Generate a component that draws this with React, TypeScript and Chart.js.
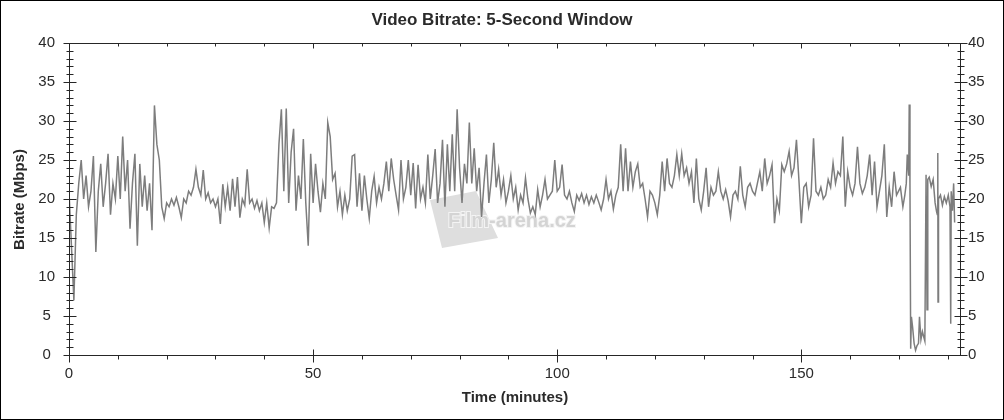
import { useEffect, useRef } from "react";
import { Chart, registerables } from "chart.js";

Chart.register(...registerables);

const TITLE = "Video Bitrate: 5-Second Window";
const X_TITLE = "Time (minutes)";
const Y_TITLE = "Bitrate (Mbps)";
const WATERMARK = "Film-arena.cz";

const X_MAX = 182.5;
const Y_MAX = 40;
const X_LABEL_TICKS = [0, 50, 100, 150];
const X_MINOR_STEP = 10;
const Y_LABEL_TICKS = [0, 5, 10, 15, 20, 25, 30, 35, 40];
const Y_MINOR_STEP = 1;

const SAMPLE_STEP = 0.5; // minutes between samples
const SEGMENT_MINUTES = 10;

// Bitrate (Mbps) sampled every 0.5 min, one array per 10-minute segment
const seg000 = [21, 14, 7, 18, 22, 25, 20, 23, 19, 21, 25.5, 13.2, 21, 24.5, 19, 22, 25.8, 18, 22, 20];
const seg010 = [25.5, 20, 28, 21, 25, 16.2, 22, 25.8, 14, 24.5, 19, 23, 18.5, 22, 16, 32, 27, 25, 19, 17.5];
const seg020 = [19.5, 19, 20, 19.2, 20.2, 19, 17.6, 20, 19.5, 21, 20.5, 21.5, 23.8, 21.5, 20.5, 23.7, 20, 20.8, 19.5, 20];
const seg030 = [19, 20, 16.8, 21.9, 19, 21.5, 18.5, 22.6, 19, 22.8, 17.6, 20, 19.2, 23.8, 19.5, 20, 18.8, 19.8, 18.5, 19.5];
const seg040 = [17, 19.5, 16.3, 19, 18.8, 19.5, 27, 31.5, 21, 31.6, 19.5, 26, 29, 18.5, 23, 20, 27.7, 19.5, 14, 25.8];
const seg050 = [19.5, 24.5, 21, 18.3, 22, 20, 29.8, 28, 22.5, 23.3, 19, 21, 18, 20.5, 18.5, 20, 25.5, 25.7, 19, 23.3];
const seg060 = [18.5, 23, 20, 17.5, 21, 22.9, 19.5, 21.5, 20, 22, 24.8, 21, 25.2, 22.5, 20.5, 18.6, 25, 20, 21.5, 25];
const seg070 = [20.5, 24.6, 18.8, 24.4, 20, 21.5, 19.5, 25.7, 20, 23, 26.4, 19.5, 22, 27.6, 19, 27, 21, 28.3, 21, 31.5];
const seg080 = [24, 19.5, 24.5, 22, 29.8, 22, 26.5, 21, 24, 17.7, 22, 25.7, 19.5, 22.5, 27.2, 21.5, 23.8, 20.5, 22.5, 19.5];
const seg090 = [21, 23, 20, 21.5, 18.6, 20.5, 19.5, 22.7, 20, 18.2, 19, 18, 21.2, 19, 20.5, 22.5, 20, 20.5, 21, 25];
const seg100 = [21, 21.5, 24.4, 20.5, 20, 21, 19.5, 18.4, 20.5, 19.8, 20.7, 19.5, 20.5, 19.3, 20.3, 19.5, 20.5, 19.6, 18.6, 20];
const seg110 = [22.5, 20, 21, 18.7, 20.5, 21.5, 27, 21, 26.5, 21, 24.8, 21.5, 23.5, 24.5, 21.5, 22, 20, 17.7, 21, 20.5];
const seg120 = [19.5, 18, 20.5, 24.8, 21, 25.2, 22, 21.5, 23, 25.7, 23, 25.8, 23, 24, 22, 23.5, 19.5, 25.2, 20, 18.6];
const seg130 = [21, 24, 19, 21.5, 20.5, 21, 23.5, 21, 20, 21.2, 19.8, 17.7, 20.5, 21, 20, 24.2, 20.5, 19, 21.5, 22];
const seg140 = [21, 20.5, 22, 23.5, 21, 25.2, 22, 23, 24.4, 16.9, 20, 18.5, 24.4, 23.5, 24.5, 26.1, 23, 24, 27.6, 22.5];
const seg150 = [16.9, 21.5, 22, 19, 20.5, 27.8, 21, 20.5, 21.5, 20, 20.5, 22.5, 21.5, 24.6, 22, 23.5, 23, 28, 19, 23.5];
const seg160 = [21.5, 20.5, 22, 26.7, 22, 20.7, 21.5, 23, 25.7, 20.5, 24.8, 19, 21, 23, 27, 17.7, 21.5, 19, 23.5, 20.5];

const SEGMENTS = [seg000, seg010, seg020, seg030, seg040, seg050, seg060, seg070, seg080, seg090, seg100, seg110, seg120, seg130, seg140, seg150, seg160];

// Final part (credits / extras) with irregular detail
const TAIL_TIMES = [170.3, 170.8, 171.2, 171.5, 171.7, 172.0, 172.1, 172.25, 172.4, 172.55, 172.8, 173.1, 173.4, 173.7, 174.0, 174.2, 174.5, 174.8, 175.0, 175.3, 175.55, 175.75, 175.9, 176.2, 176.6, 177.0, 177.4, 177.7, 177.85, 177.95, 178.0, 178.1, 178.5, 178.9, 179.3, 179.7, 180.1, 180.45, 180.6, 180.7, 180.95, 181.2, 181.4];
const TAIL_VALUES = [21.5, 19, 20.5, 22, 25.7, 23, 32.1, 22, 0.8, 4.9, 3.5, 1.5, 0.6, 1.2, 1.5, 4.9, 2, 3, 2.5, 1.8, 23.1, 5.8, 22.5, 22.8, 21.6, 22.5, 19.5, 18.4, 18, 25.9, 6.8, 20, 20.5, 19.2, 20.3, 19.5, 20.5, 19, 4, 21, 18.5, 22, 17];

const LINE_COLOR = "#7d7d7d";
const AXIS_COLOR = "#262626";
const TEXT_COLOR = "#2a2a2a";
const FONT_FAMILY = '"Liberation Sans", Arial, Helvetica, sans-serif';

function buildPoints() {
  const pts: { x: number; y: number }[] = [];
  SEGMENTS.forEach((seg, k) => {
    seg.forEach((v, i) => pts.push({ x: k * SEGMENT_MINUTES + i * SAMPLE_STEP, y: v }));
  });
  TAIL_TIMES.forEach((t, i) => pts.push({ x: t, y: TAIL_VALUES[i] }));
  return pts;
}

const decorPlugin = {
  id: "decor",
  beforeDatasetsDraw(chart: any) {
    const ctx = chart.ctx;
    ctx.save();
    ctx.fillStyle = "#dedede";
    ctx.beginPath();
    ctx.moveTo(430, 200);
    ctx.lineTo(476, 191);
    ctx.lineTo(498, 238);
    ctx.lineTo(442, 248);
    ctx.closePath();
    ctx.fill();
    ctx.font = `bold 20px ${FONT_FAMILY}`;
    ctx.textBaseline = "alphabetic";
    ctx.textAlign = "left";
    ctx.lineWidth = 2;
    ctx.strokeStyle = "#f4f4f4";
    ctx.strokeText(WATERMARK, 448, 227);
    ctx.fillStyle = "#d4d4d4";
    ctx.fillText(WATERMARK, 448, 227);
    ctx.restore();
  },
  afterDraw(chart: any) {
    const ctx = chart.ctx;
    const { left, right, top, bottom } = chart.chartArea;
    const xs = chart.scales.x;
    const ys = chart.scales.y;
    const L = Math.round(left) + 0.5;
    const R = Math.round(right) + 0.5;
    const T = Math.round(top) + 0.5;
    const B = Math.round(bottom) + 0.5;
    ctx.save();
    ctx.strokeStyle = AXIS_COLOR;
    ctx.lineWidth = 1;
    ctx.beginPath();
    ctx.moveTo(L, T);
    ctx.lineTo(R, T);
    ctx.lineTo(R, B);
    ctx.lineTo(L, B);
    ctx.closePath();
    for (let v = 0; v <= Y_MAX; v += Y_MINOR_STEP) {
      const py = Math.round(ys.getPixelForValue(v)) + 0.5;
      const len = Y_LABEL_TICKS.includes(v) ? 6 : 3;
      ctx.moveTo(L - len, py);
      ctx.lineTo(L + len + 1, py);
      ctx.moveTo(R - len, py);
      ctx.lineTo(R + len + 1, py);
    }
    for (let v = 0; v <= X_MAX; v += X_MINOR_STEP) {
      const px = Math.round(xs.getPixelForValue(v)) + 0.5;
      const major = X_LABEL_TICKS.includes(v);
      if (major) {
        ctx.moveTo(px, B - 6);
        ctx.lineTo(px, B + 7);
        ctx.moveTo(px, T);
        ctx.lineTo(px, T + 5);
      } else {
        ctx.moveTo(px, B);
        ctx.lineTo(px, B + 4);
        ctx.moveTo(px, T);
        ctx.lineTo(px, T + 3);
      }
    }
    ctx.stroke();
    ctx.strokeStyle = "#000";
    ctx.strokeRect(0.5, 0.5, chart.width - 1, chart.height - 1);

    ctx.fillStyle = TEXT_COLOR;
    ctx.textAlign = "center";
    ctx.textBaseline = "middle";
    ctx.font = `bold 17px ${FONT_FAMILY}`;
    ctx.fillText(TITLE, 502, 20);
    ctx.font = `bold 15px ${FONT_FAMILY}`;
    ctx.fillText(X_TITLE, (L + R) / 2, 398);
    ctx.translate(20, (T + B) / 2);
    ctx.rotate(-Math.PI / 2);
    ctx.fillText(Y_TITLE, 0, 0);
    ctx.restore();
  },
};

export default function App() {
  const canvasRef = useRef<HTMLCanvasElement | null>(null);

  useEffect(() => {
    document.body.style.margin = "0";
    const canvas = canvasRef.current;
    if (!canvas) return;
    const tickFont = { family: FONT_FAMILY, size: 15 };
    const chart = new Chart(canvas, {
      type: "line",
      data: {
        datasets: [
          {
            data: buildPoints(),
            borderColor: LINE_COLOR,
            borderWidth: 1.5,
            pointRadius: 0,
            tension: 0,
            fill: false,
          },
        ],
      },
      options: {
        animation: false,
        responsive: false,
        layout: { padding: { top: 43, left: 0, right: 0, bottom: 0 } },
        plugins: {
          legend: { display: false },
          tooltip: { enabled: false },
          title: { display: false },
        },
        scales: {
          x: {
            type: "linear",
            position: "bottom",
            min: 0,
            max: X_MAX,
            grid: { display: false, drawTicks: false, tickLength: 0 },
            border: { display: false },
            afterBuildTicks: (scale: any) => {
              scale.ticks = X_LABEL_TICKS.map((v) => ({ value: v }));
            },
            afterFit: (scale: any) => {
              scale.height = 65;
            },
            ticks: {
              font: tickFont,
              color: TEXT_COLOR,
              padding: 10,
              maxRotation: 0,
              autoSkip: false,
            },
          },
          y: {
            type: "linear",
            position: "left",
            min: 0,
            max: Y_MAX,
            grid: { display: false, drawTicks: false, tickLength: 0 },
            border: { display: false },
            afterBuildTicks: (scale: any) => {
              scale.ticks = Y_LABEL_TICKS.map((v) => ({ value: v }));
            },
            afterFit: (scale: any) => {
              scale.width = 69;
            },
            ticks: {
              font: tickFont,
              color: TEXT_COLOR,
              padding: 14,
              crossAlign: "center",
            },
          },
          y2: {
            type: "linear",
            position: "right",
            min: 0,
            max: Y_MAX,
            grid: { display: false, drawTicks: false, tickLength: 0 },
            border: { display: false },
            afterBuildTicks: (scale: any) => {
              scale.ticks = Y_LABEL_TICKS.map((v) => ({ value: v }));
            },
            afterFit: (scale: any) => {
              scale.width = 44;
            },
            ticks: {
              font: tickFont,
              color: TEXT_COLOR,
              padding: 8,
              crossAlign: "near",
            },
          },
        },
      } as any,
      plugins: [decorPlugin],
    });
    return () => chart.destroy();
  }, []);

  return (
    <div style={{ position: "absolute", left: 0, top: 0, width: 1004, height: 420, background: "#fff" }}>
      <canvas ref={canvasRef} width={1004} height={420} style={{ display: "block" }} />
    </div>
  );
}
